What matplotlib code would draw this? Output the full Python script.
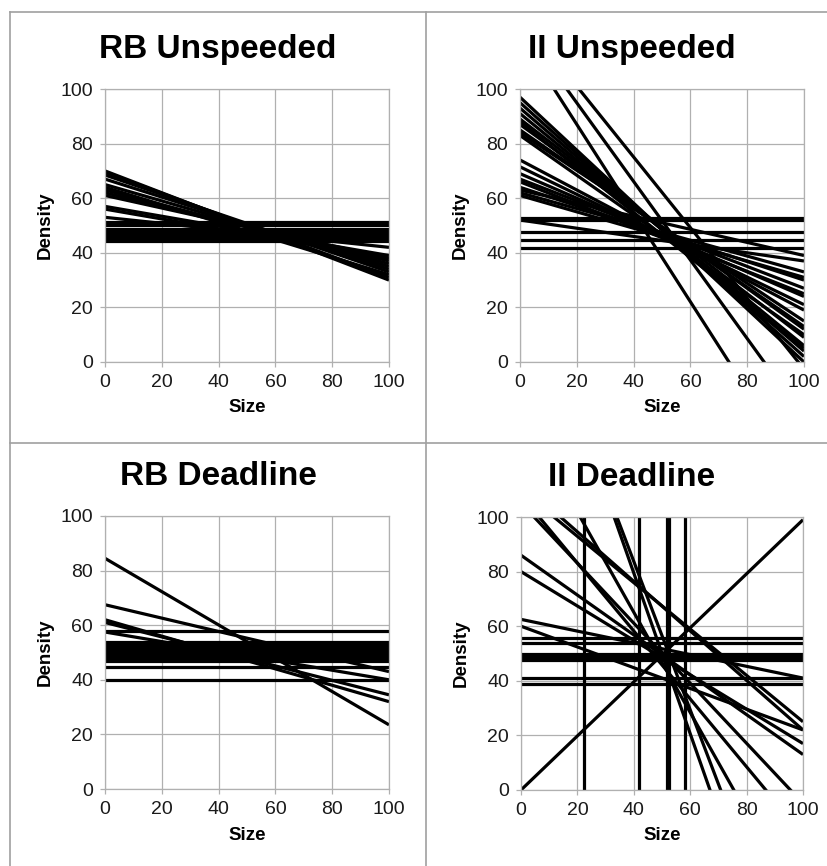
import matplotlib
matplotlib.use("Agg")
import matplotlib.pyplot as plt
from matplotlib.lines import Line2D

plt.rcParams['font.family'] = ['Liberation Sans', 'DejaVu Sans']

# fitted lines: density at size 0 and at size 100
rb_unsp_start = [70, 69.5, 68.5, 67, 65, 64, 63, 62, 61, 57, 56, 53]
rb_unsp_end = [30, 31, 33, 34, 35, 32, 36, 37, 38, 39, 38, 42]
rb_unsp_flat = [44.2, 44.8, 45.4, 46, 46.6, 47.2, 47.8, 48.3, 48.8, 50.2, 50.7, 51.3]
rb_unsp_vert = []

ii_unsp_start = [119.5, 123.7, 126.9, 97, 95, 93, 91, 89, 88, 87, 85, 84, 83,
                 74, 71.5, 69, 67, 66, 64, 63, 62, 61, 52]
ii_unsp_end = [-42.9, -20.2, -2.6, 0, 2, 4, 6, 9, 5, 12, 13, 15, 10,
               19, 21, 24, 27, 25, 30, 39, 33, 31, 37]
ii_unsp_flat = [52.0, 52.9, 47.7, 44.8, 41.8]
ii_unsp_vert = []

rb_dl_start = [84.5, 67.5, 62, 61, 57.5]
rb_dl_end = [23.5, 43, 32, 34.5, 40]
rb_dl_flat = [58, 54, 53.5, 53, 52.5, 52, 51.5, 51, 50.5, 50, 49.5, 49,
              48.5, 48, 47.5, 47, 44.6, 40]
rb_dl_vert = []

ii_dl_start = [105.1, 108.0, 109.9, 112.7, 138.5, 197.1, 192.4, 86, 80, 62.5, 60, 0]
ii_dl_end = [-4.9, -16.4, 25, 22, -45.0, -97.0, -79.3, 13, 17, 41, 22, 99]
ii_dl_flat = [55.7, 53.8, 50.0, 49.2, 48.4, 47.6, 41.2, 38.8]
ii_dl_vert = [22.3, 42, 51.6, 52.4, 58]

titles = ["RB Unspeeded", "II Unspeeded", "RB Deadline", "II Deadline"]
ticks = [0, 20, 40, 60, 80, 100]

panels = [
    (rb_unsp_start, rb_unsp_end, rb_unsp_flat, rb_unsp_vert),
    (ii_unsp_start, ii_unsp_end, ii_unsp_flat, ii_unsp_vert),
    (rb_dl_start, rb_dl_end, rb_dl_flat, rb_dl_vert),
    (ii_dl_start, ii_dl_end, ii_dl_flat, ii_dl_vert),
]

W, H = 828, 866
fig = plt.figure(figsize=(W / 100, H / 100), dpi=100)

# axes boxes in pixels: left, top, right, bottom
boxes = [(105, 89, 389, 362), (520, 89, 804, 362),
         (105, 516, 389, 789), (521, 517, 803, 790)]
title_pos = [(218, 58), (632, 58), (218, 485), (632, 486)]

grey = '#b0b0b0'
lw = 2.3

for (l, t, r, b), (st, en, fl, vt), title, (tx, ty) in zip(boxes, panels, titles, title_pos):
    ax = fig.add_axes([l / W, 1 - b / H, (r - l) / W, (b - t) / H])
    ax.set_xlim(0, 100)
    ax.set_ylim(0, 100)
    ax.set_xticks(ticks)
    ax.set_yticks(ticks)
    ax.grid(True, color=grey, lw=0.9)
    ax.set_axisbelow(True)
    for s in ax.spines.values():
        s.set_color(grey)
        s.set_linewidth(0.9)
    ax.tick_params(direction='out', length=3.6, width=0.9, color=grey,
                   labelsize=14, labelcolor='#1a1a1a', pad=5)

    for y in fl:
        ax.plot([0, 100], [y, y], color='black', lw=lw, solid_capstyle='butt')
    for a, e in zip(st, en):
        ax.plot([0, 100], [a, e], color='black', lw=lw, solid_capstyle='butt')
    for x in vt:
        ax.plot([x, x], [0, 100], color='black', lw=lw, solid_capstyle='butt')

    ax.set_xlabel("Size", fontsize=13.5, fontweight='bold')
    ax.set_ylabel("Density", fontsize=13.5, fontweight='bold')
    ax.xaxis.set_label_coords(0.5, -46 / (b - t))
    ax.xaxis.label.set_va('center')
    ax.yaxis.set_label_coords(-60 / (r - l), 0.5)
    ax.yaxis.label.set_va('center')

    fig.text(tx / W, 1 - ty / H, title, fontsize=24, fontweight='bold',
             ha='center', va='baseline')

# panel frame lines
frame = '#a0a0a0'
fig.add_artist(Line2D([10 / W, 1], [1 - 12 / H, 1 - 12 / H], color=frame, lw=1.2))
fig.add_artist(Line2D([10 / W, 10 / W], [0, 1 - 12 / H], color=frame, lw=1.2))
fig.add_artist(Line2D([426 / W, 426 / W], [0, 1 - 12 / H], color=frame, lw=1.2))
fig.add_artist(Line2D([10 / W, 1], [1 - 443 / H, 1 - 443 / H], color=frame, lw=1.2))

fig.savefig("out.png", dpi=100)
